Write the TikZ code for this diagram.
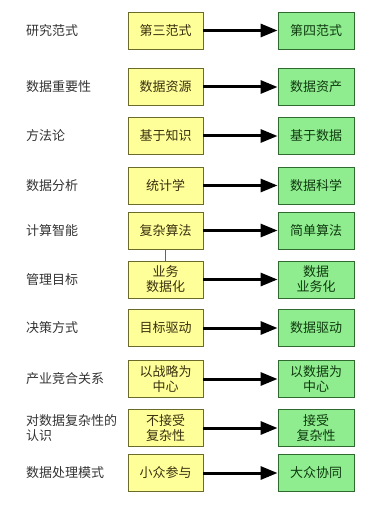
\documentclass[tikz,border=0pt]{standalone}
\usepackage{fontspec}
\setmainfont{Noto Sans CJK SC}
\usetikzlibrary{arrows.meta}
\definecolor{yfill}{HTML}{FFFF99}
\definecolor{ydraw}{HTML}{6B6B2A}
\definecolor{gfill}{HTML}{8FEC8F}
\definecolor{gdraw}{HTML}{2F6B2F}
\definecolor{ytext}{HTML}{3A3010}
\definecolor{gtext}{HTML}{0F3A0F}
\tikzset{
  ybox/.style={draw=ydraw, fill=yfill, line width=0.9bp, minimum width=75bp, minimum height=37bp,
    inner sep=1bp, align=center, text=ytext, font=\fontsize{13bp}{15bp}\selectfont},
  gbox/.style={draw=gdraw, fill=gfill, line width=0.9bp, minimum width=76bp, minimum height=37bp,
    inner sep=1bp, align=center, text=gtext, font=\fontsize{13bp}{15bp}\selectfont},
  lab/.style={anchor=west, align=left, inner sep=0pt, text=black!80, font=\fontsize{13bp}{15bp}\selectfont},
  conn/.style={line width=3bp, -{Triangle[length=17bp, width=13bp]}},
}
\begin{document}
\begin{tikzpicture}[x=1bp, y=-1bp]
\useasboundingbox (0,0) rectangle (379,511);
\foreach \i/\yy/\l/\a/\b in {
  1/30.5/研究范式/第三范式/第四范式,
  2/87/数据重要性/数据资源/数据资产,
  3/136/方法论/基于知识/基于数据,
  4/185.5/数据分析/统计学/数据科学,
  5/230.5/计算智能/复杂算法/简单算法,
  6/279.5/管理目标/{业务\\数据化}/{数据\\业务化},
  7/328/决策方式/目标驱动/数据驱动,
  8/379/产业竞合关系/{以战略为\\中心}/{以数据为\\中心},
  9/428/{对数据复杂性的\\认识}/{不接受\\复杂性}/{接受\\复杂性},
  10/473/数据处理模式/小众参与/大众协同}{
  \node[lab] (l\i) at (26,\yy) {\l};
  \node[ybox] (y\i) at (165.5,\yy) {\a};
  \node[gbox] (g\i) at (316,\yy) {\b};
  \draw[conn] (y\i) -- (g\i);
}
\draw[line width=0.9bp, draw=ydraw] (y5) -- (y6);
\end{tikzpicture}
\end{document}
